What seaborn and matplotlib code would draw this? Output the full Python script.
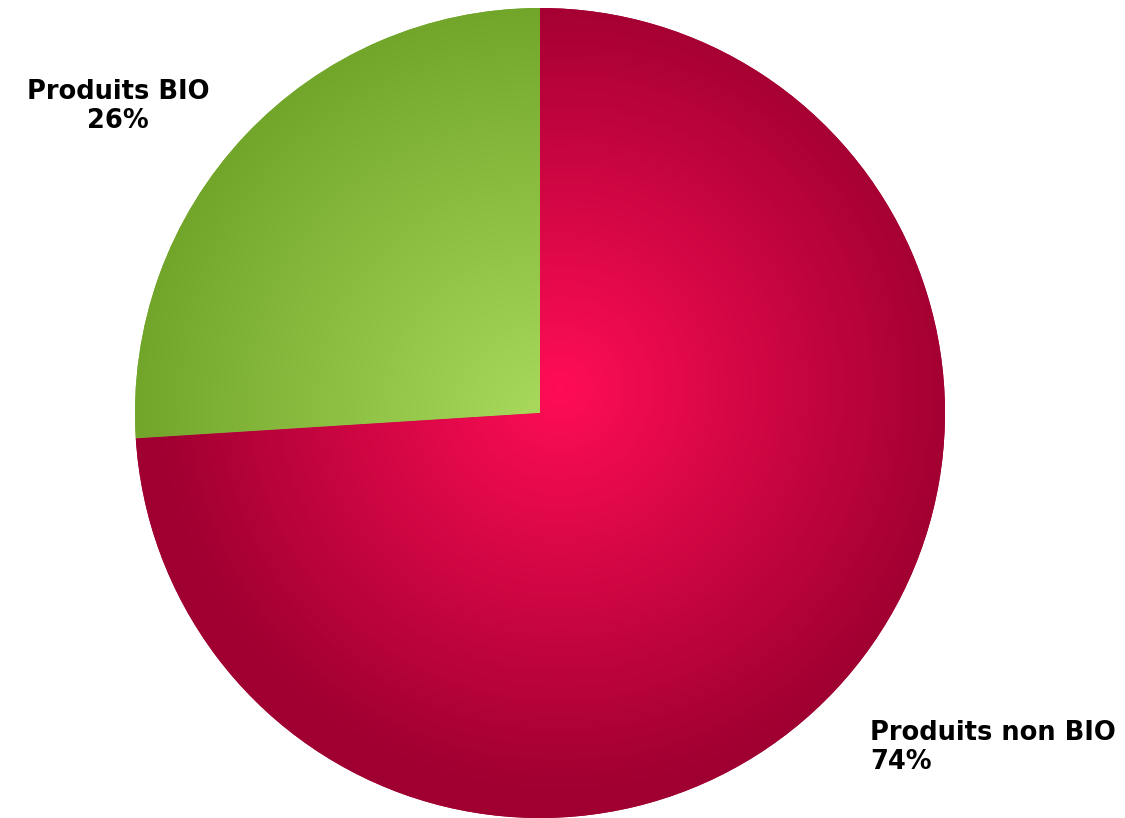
import numpy as np
import seaborn as sns
from matplotlib import pyplot as plt
from matplotlib.colors import LinearSegmentedColormap

# data
categories = ['Produits BIO', 'Produits non BIO']
shares = [26, 74]

sns.set_theme(style='white')
plt.rcParams['font.family'] = ['DejaVu Sans']

# radial gradient colours (centre -> edge)
grad_colors = {
    'Produits BIO': ['#a8d95c', '#72a62a'],
    'Produits non BIO': ['#ff0d55', '#a00031'],
}
grad_centre = {
    'Produits BIO': (0.0, 0.0),
    'Produits non BIO': (0.05, 0.06),
}
# label placement (data coords) and alignment
label_pos = {
    'Produits BIO': (-1.042, 0.756, 'center'),
    'Produits non BIO': (0.815, -0.827, 'left'),
}

fig = plt.figure(figsize=(11.25, 8.18), dpi=100)
ax = fig.add_axes([0, 0, 1, 1])

wedges, _ = ax.pie(shares, startangle=90, counterclock=True, radius=1,
                   colors=[grad_colors[c][1] for c in categories],
                   wedgeprops=dict(linewidth=0))

xs = np.linspace(-1, 1, 600)
X, Y = np.meshgrid(xs, xs)
for w, cat in zip(wedges, categories):
    cx, cy = grad_centre[cat]
    dist = np.sqrt((X - cx) ** 2 + (Y - cy) ** 2)
    dist = np.clip(dist, 0, 1)
    cmap = LinearSegmentedColormap.from_list(cat, grad_colors[cat])
    im = ax.imshow(dist, cmap=cmap, extent=(-1, 1, -1, 1), origin='lower',
                   vmin=0, vmax=1, interpolation='bilinear', zorder=2)
    im.set_clip_path(w)

for cat, val in zip(categories, shares):
    x, y, ha = label_pos[cat]
    ax.text(x, y, f'{cat}\n{val}%', ha=ha, va='center', fontsize=18.5,
            fontweight='bold', color='black', linespacing=1.15, zorder=3)

ax.set_xlim(-540 / 405, 585 / 405)
ax.set_ylim(-1.0, 413 / 405)
ax.set_aspect('equal')
ax.axis('off')

fig.savefig('out.png', dpi=100, facecolor='white')
